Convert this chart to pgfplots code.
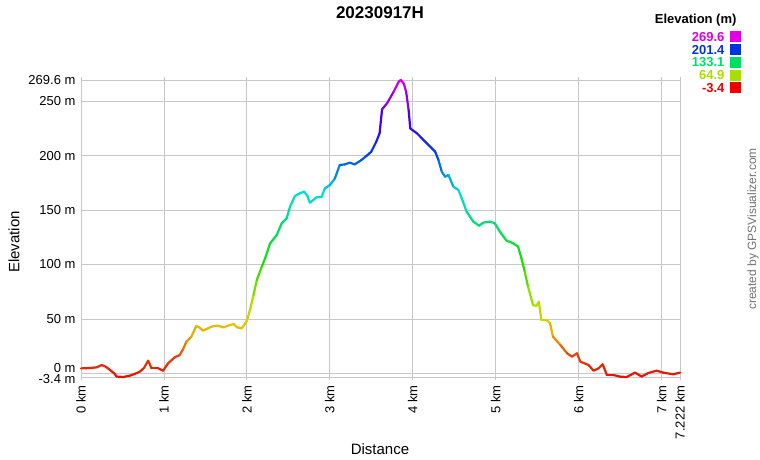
\documentclass[border=0pt]{standalone}
\usepackage{pgfplots}
\pgfplotsset{compat=1.18}
\usepackage{fontspec}
\setmainfont{Liberation Sans}
\definecolor{gridgray}{RGB}{200,200,200}
\definecolor{legmag}{RGB}{224,0,224}
\definecolor{legblue}{RGB}{0,51,221}
\definecolor{leggreen}{RGB}{0,221,102}
\definecolor{leglime}{RGB}{170,221,0}
\definecolor{legred}{RGB}{238,0,0}
\pgfplotsset{colormap={elev}{
 rgb255(0pt)=(232,16,0)
 rgb255(7pt)=(232,64,16)
 rgb255(12pt)=(232,140,0)
 rgb255(18pt)=(230,200,0)
 rgb255(25pt)=(170,224,0)
 rgb255(38pt)=(34,221,0)
 rgb255(50pt)=(0,221,102)
 rgb255(62pt)=(0,221,221)
 rgb255(75pt)=(0,64,238)
 rgb255(86pt)=(64,0,238)
 rgb255(100pt)=(221,0,238)}}
\begin{document}
\begin{tikzpicture}[x=1pt,y=1pt]
\useasboundingbox (0,0) rectangle (760,460);
\begin{axis}[
  at={(81pt,83pt)}, anchor=south west,
  scale only axis, width=599pt, height=297pt,
  xmin=0, xmax=7.222, ymin=-3.4, ymax=269.6,
  xtick={0,1,2,3,4,5,6,7,7.222},
  xticklabels={0 km,1 km,2 km,3 km,4 km,5 km,6 km,7 km,7.222 km},
  ytick={-3.4,0,50,100,150,200,250,269.6},
  yticklabels={\raisebox{-7pt}[0pt][0pt]{-3.4 m},\raisebox{1pt}[0pt][0pt]{0 m},50 m,100 m,150 m,200 m,250 m,269.6 m},
  grid=major,
  major grid style={draw=gridgray, line width=0.8pt},
  axis line style={draw=gridgray, line width=0.8pt},
  tick align=outside, major tick length=3pt,
  xtick style={draw=gridgray, line width=0.8pt},
  ytick style={draw=none},
  xticklabel style={rotate=90, anchor=east, font=\fontsize{13}{15}\selectfont, xshift=-2pt},
  yticklabel style={anchor=east, font=\fontsize{13}{15}\selectfont, xshift=1pt},
  point meta min=-3.4, point meta max=269.6,
  colormap name=elev,
  clip=false,
]
\addplot[mesh, point meta=y, line width=2.2pt, line cap=round, line join=round] coordinates {
(0,4.5) (0.10,4.8) (0.19,5.5) (0.25,7.6) (0.30,6) (0.35,3) (0.40,0) (0.43,-3) (0.51,-3.4)
(0.59,-2.2) (0.65,-0.5) (0.71,1.5) (0.76,5) (0.81,11.6) (0.85,4.6) (0.93,4.6) (0.99,2.4)
(1.05,9.2) (1.13,14.7) (1.19,16.8) (1.23,22) (1.27,29) (1.33,33.6) (1.39,43.5) (1.43,42)
(1.47,39.2) (1.53,41.3) (1.58,43) (1.64,43.8) (1.72,42.3) (1.78,44) (1.84,45.3) (1.88,42.3)
(1.94,41.3) (2.00,48.4) (2.04,59) (2.08,72) (2.12,85.8) (2.18,98) (2.22,105.7) (2.28,119.5)
(2.36,127.1) (2.42,137.9) (2.48,142.5) (2.52,153.1) (2.58,163) (2.64,165.5) (2.69,167)
(2.73,163) (2.76,156.8) (2.84,161.8) (2.90,162) (2.94,170) (3.00,173) (3.06,179) (3.12,191.5)
(3.18,192) (3.24,193.6) (3.30,192) (3.38,196) (3.44,199.7) (3.50,203.7) (3.56,212.9)
(3.60,220.6) (3.63,242.7) (3.69,248.2) (3.77,258.9) (3.83,268) (3.855,269.6) (3.89,266.6)
(3.92,258.9) (3.95,242) (3.97,225) (4.05,220.6) (4.13,214.4) (4.21,208.3) (4.27,203.7)
(4.31,196) (4.35,185.3) (4.39,180.7) (4.43,182.3) (4.49,171.5) (4.55,168.5) (4.59,160.9)
(4.65,148.5) (4.73,139.4) (4.80,135.7) (4.85,138.5) (4.93,139.4) (4.99,137.9) (5.05,130.2)
(5.13,121.9) (5.21,119.5) (5.27,116.4) (5.31,105.7) (5.35,93.4) (5.39,79.6) (5.45,62.8)
(5.49,61.9) (5.52,65.8) (5.55,49) (5.61,49) (5.655,46) (5.69,33.7) (5.78,26) (5.86,18.4)
(5.92,15.3) (5.98,18.4) (6.02,10.7) (6.12,7.6) (6.18,2.4) (6.24,4.6) (6.29,8.3) (6.34,-1.6)
(6.42,-1.6) (6.50,-3.1) (6.58,-3.4) (6.68,0.6) (6.76,-3) (6.84,0.3) (6.94,2.4) (7.02,0.6)
(7.14,-0.9) (7.222,0.6)
};
\end{axis}
% title and labels
\node[font=\fontsize{17}{19}\selectfont\bfseries] at (380,447) {20230917H};
\node[font=\fontsize{15}{17}\selectfont] at (380,11) {Distance};
\node[font=\fontsize{15}{17}\selectfont, rotate=90] at (14,218) {Elevation};
\node[font=\fontsize{12}{14}\selectfont, rotate=90, text=black!55] at (753,231) {created by GPSVisualizer.com};
% legend
\node[anchor=east, font=\fontsize{13}{15}\selectfont\bfseries] at (740,440) {Elevation (m)};
\foreach \v/\c [count=\i] in {269.6/legmag,201.4/legblue,133.1/leggreen,64.9/leglime,-3.4/legred}{
  \node[anchor=east, font=\fontsize{13}{15}\selectfont\bfseries, text=\c] at (728,436-12.8*\i) {\v};
  \fill[\c] (730,430.5-12.8*\i) rectangle (741,441.5-12.8*\i);
}
\end{tikzpicture}
\end{document}
